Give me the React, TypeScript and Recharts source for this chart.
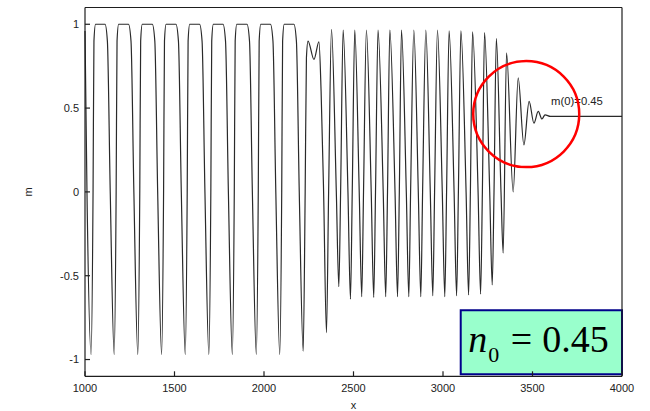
import React from 'react';
import { LineChart, Line, XAxis, YAxis, ReferenceDot, ReferenceArea } from 'recharts';

// x positions of the curve's key points
const xValues = [
  1000, 1011, 1034, 1045, 1050, 1059,
  1112, 1125, 1141, 1163, 1174, 1179, 1188,
  1243, 1257, 1273, 1295, 1306, 1311, 1320,
  1376, 1390, 1406, 1428, 1439, 1444, 1453,
  1508, 1522, 1538, 1560, 1571, 1576, 1585,
  1640, 1654, 1670, 1692, 1703, 1708, 1717,
  1771, 1785, 1801, 1823, 1834, 1839, 1848,
  1905, 1919, 1935, 1957, 1968, 1973, 1982,
  2036, 2050, 2066, 2088, 2099, 2104, 2113,
  2167, 2181, 2197, 2219, 2230, 2237, 2246, 2279, 2307, 2319, 2333, 2349, 2361, 2377,
  2404, 2418, 2428, 2442,
  2469, 2483, 2493, 2507,
  2532, 2546, 2556, 2572,
  2599, 2613, 2623, 2637,
  2666, 2680, 2690, 2703,
  2732, 2746, 2756, 2768,
  2795, 2809, 2819, 2837,
  2862, 2876, 2886, 2904,
  2929, 2943, 2953, 2969,
  2996, 3010, 3020, 3034,
  3062, 3076, 3086, 3100,
  3129, 3143, 3153, 3165,
  3196, 3210, 3220, 3232,
  3261, 3275, 3285, 3298,
  3324, 3336, 3355,
  3392, 3420, 3452, 3481, 3508, 3532,
  3553, 3570, 3600, 4000,
];

// m values at those x positions
const mValues = [
  0.96, 0.0, -0.97, 0.0, 0.9, 1.0,
  1.0, 0.9, 0.0, -0.97, 0.0, 0.9, 1.0,
  1.0, 0.9, 0.0, -0.97, 0.0, 0.9, 1.0,
  1.0, 0.9, 0.0, -0.97, 0.0, 0.9, 1.0,
  1.0, 0.9, 0.0, -0.97, 0.0, 0.9, 1.0,
  1.0, 0.9, 0.0, -0.97, 0.0, 0.9, 1.0,
  1.0, 0.9, 0.0, -0.97, 0.0, 0.9, 1.0,
  1.0, 0.9, 0.0, -0.97, 0.0, 0.9, 1.0,
  1.0, 0.9, 0.0, -0.97, 0.0, 0.9, 1.0,
  1.0, 0.9, 0.0, -0.95, 0.0, 0.8, 0.9, 0.79, 0.895, 0.6, 0.0, -0.84, 0.0, 0.97,
  0.0, -0.565, 0.0, 0.965,
  0.0, -0.64, 0.0, 0.965,
  0.0, -0.625, 0.0, 0.965,
  0.0, -0.63, 0.0, 0.965,
  0.0, -0.625, 0.0, 0.965,
  0.0, -0.625, 0.0, 0.965,
  0.0, -0.625, 0.0, 0.965,
  0.0, -0.625, 0.0, 0.965,
  0.0, -0.62, 0.0, 0.965,
  0.0, -0.625, 0.0, 0.96,
  0.0, -0.62, 0.0, 0.96,
  0.0, -0.615, 0.0, 0.955,
  0.0, -0.61, 0.0, 0.95,
  0.0, -0.555, 0.0, 0.915,
  0.0, -0.365, 0.83,
  0.0, 0.68, 0.28, 0.54, 0.41, 0.48,
  0.435, 0.46, 0.45, 0.45,
];

const xTicks = [1000, 1500, 2000, 2500, 3000, 3500, 4000];
const yTicks = [-1, -0.5, 0, 0.5, 1];
const xDomain = [1000, 4000];
const yDomain = [-1.1, 1.1];

// annotations
const circleCenter = { x: 3465, m: 0.464 };
const initLabel = { x: 3601, m: 0.45, text: 'm(0)=0.45' };
const boxRange = { x1: 3099, x2: 4000, m1: -1.088, m2: -0.7065 };
const boxText = { sym: 'n', sub: '0', eq: '=', val: '0.45' };

const data = xValues.map((x, i) => ({ x, m: mValues[i] }));

const AXIS_COLOR = '#1e1e1e';
const SANS = '"Liberation Sans", Arial, Helvetica, sans-serif';
const SERIF = '"Liberation Serif", "Times New Roman", Times, serif';
const tickStyle = { fontSize: 11, fill: '#222', fontFamily: SANS };

export default function App() {
  return (
    <div style={{ position: 'absolute', left: 0, top: 0, width: 650, height: 411, background: '#fff' }}>
      <LineChart
        width={650}
        height={411}
        data={data}
        margin={{ top: 6.5, right: 27, bottom: 0, left: 0 }}
      >
        <XAxis
          xAxisId="b"
          dataKey="x"
          type="number"
          domain={xDomain}
          ticks={xTicks}
          orientation="bottom"
          height={34.7}
          tickSize={-5}
          tickMargin={13}
          tick={tickStyle}
          stroke={AXIS_COLOR}
          axisLine={{ stroke: AXIS_COLOR, strokeWidth: 1.2 }}
          tickLine={{ stroke: AXIS_COLOR, strokeWidth: 1.2 }}
          label={(props: any) => {
            const vb = props.viewBox;
            return (
              <text x={vb.x + vb.width / 2} y={vb.y + vb.height - 2.5} textAnchor="middle"
                fontSize={11} fontFamily={SANS} fill="#222">x</text>
            );
          }}
        />
        <XAxis
          xAxisId="t"
          dataKey="x"
          type="number"
          domain={xDomain}
          ticks={xTicks}
          orientation="top"
          height={1}
          tickSize={-5}
          tick={false}
          axisLine={{ stroke: AXIS_COLOR, strokeWidth: 1.2 }}
          tickLine={{ stroke: AXIS_COLOR, strokeWidth: 1.2 }}
        />
        <YAxis
          yAxisId="l"
          type="number"
          domain={yDomain}
          ticks={yTicks}
          width={85}
          tickSize={-5}
          tickMargin={11}
          tick={tickStyle}
          axisLine={{ stroke: AXIS_COLOR, strokeWidth: 1.2 }}
          tickLine={{ stroke: AXIS_COLOR, strokeWidth: 1.2 }}
          label={(props: any) => {
            const vb = props.viewBox;
            const cx = vb.x + 28;
            const cy = vb.y + vb.height / 2;
            return (
              <text x={cx} y={cy} textAnchor="middle" dominantBaseline="central"
                transform={`rotate(-90, ${cx}, ${cy})`} fontSize={11} fontFamily={SANS} fill="#222">m</text>
            );
          }}
        />
        <YAxis
          yAxisId="r"
          orientation="right"
          type="number"
          domain={yDomain}
          ticks={yTicks}
          width={1}
          tickSize={-5}
          tick={false}
          axisLine={{ stroke: AXIS_COLOR, strokeWidth: 1.2 }}
          tickLine={{ stroke: AXIS_COLOR, strokeWidth: 1.2 }}
        />
        <Line
          xAxisId="b"
          yAxisId="l"
          type="monotone"
          dataKey="m"
          stroke="#2a2a2a"
          strokeWidth={1.2}
          dot={false}
          activeDot={false}
          isAnimationActive={false}
        />
        <ReferenceDot
          xAxisId="b"
          yAxisId="l"
          x={initLabel.x}
          y={initLabel.m}
          r={0}
          fill="none"
          stroke="none"
          label={(props: any) => {
            const vb = props.viewBox;
            return (
              <text x={vb.x + 0.5} y={vb.y - 11.8} fontSize={11.3} fontFamily={SANS} fill="#222">
                {initLabel.text}
              </text>
            );
          }}
        />
        <ReferenceDot
          xAxisId="b"
          yAxisId="l"
          x={circleCenter.x}
          y={circleCenter.m}
          r={53}
          fill="none"
          stroke="#ff0000"
          strokeWidth={2.5}
        />
        <ReferenceArea
          xAxisId="b"
          yAxisId="l"
          x1={boxRange.x1}
          x2={boxRange.x2}
          y1={boxRange.m1}
          y2={boxRange.m2}
          fill="#99ffcc"
          fillOpacity={1}
          stroke="#00008b"
          strokeWidth={2}
          label={(props: any) => {
            const vb = props.viewBox;
            return (
              <g fontFamily={SERIF} fill="#000">
                <text x={vb.x + 7.5} y={vb.y + 41.4} fontSize={38} fontStyle="italic">{boxText.sym}</text>
                <text x={vb.x + 27.6} y={vb.y + 51.4} fontSize={22}>{boxText.sub}</text>
                <text x={vb.x + 50} y={vb.y + 41.4} fontSize={38}>{boxText.eq}</text>
                <text x={vb.x + 81.5} y={vb.y + 41.4} fontSize={38}>{boxText.val}</text>
              </g>
            );
          }}
        />
      </LineChart>
    </div>
  );
}
